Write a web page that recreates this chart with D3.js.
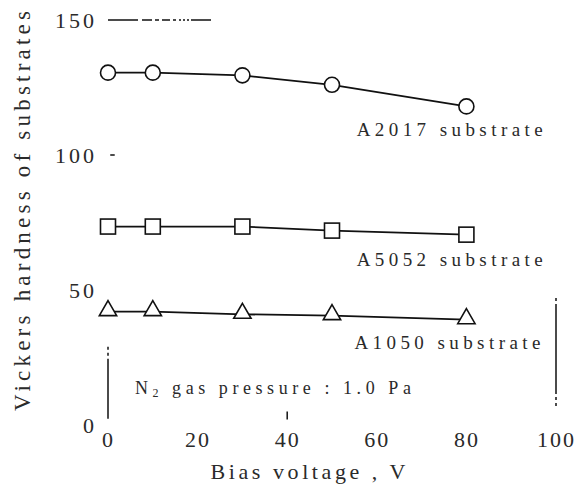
<!DOCTYPE html>
<html lang="en">
<head>
<meta charset="UTF-8">
<title>Vickers hardness vs bias voltage</title>
<script src="https://d3js.org/d3.v7.min.js"></script>
<style>
    body { margin: 0; background: white; }
    svg { display: block; }
    text { font-family: "Liberation Serif", "DejaVu Serif", serif; fill: #2a2a2a; }
</style>
</head>
<body>
<svg width="583" height="495"></svg>
<script>
    // data
    const biasVoltage = [0, 10, 30, 50, 80];
    const a2017 = [130.5, 130.5, 129.5, 126, 118];
    const a5052 = [73.5, 73.5, 73.5, 72, 70.5];
    const a1050 = [42, 42, 41, 40.5, 39];
    const xTicks = [0, 20, 40, 60, 80, 100];
    const yTicks = [0, 50, 100, 150];
    const seriesNames = ["A2017 substrate", "A5052 substrate", "A1050 substrate"];

    const svg = d3.select("svg");

    const x = d3.scaleLinear().domain([0, 100]).range([108, 556]);
    const y = d3.scaleLinear().domain([0, 150]).range([425, 20]);

    // axes: only labels survive in the scan
    const xAxis = svg.append("g")
        .attr("transform", "translate(0,432)")
        .call(d3.axisBottom(x).tickValues(xTicks).tickSize(0).tickPadding(0));
    xAxis.select(".domain").remove();
    xAxis.selectAll("text")
        .attr("font-size", 22)
        .attr("letter-spacing", 2)
        .attr("dy", "0.7em")
        .attr("fill", "#2a2a2a");

    const yAxis = svg.append("g")
        .attr("transform", "translate(97,0)")
        .call(d3.axisLeft(y).tickValues(yTicks).tickSize(0).tickPadding(0));
    yAxis.select(".domain").remove();
    yAxis.selectAll("text")
        .attr("font-size", 22)
        .attr("letter-spacing", 3)
        .attr("fill", "#2a2a2a");

    // leftover fragments of the frame
    const frame = svg.append("g").attr("stroke", "#111").attr("fill", "none");
    frame.append("line")
        .attr("x1", x(0)).attr("x2", x(23))
        .attr("y1", y(150)).attr("y2", y(150))
        .attr("stroke-width", 1.5)
        .attr("stroke-dasharray", "30,4,10,3,4,3,8,3,3,3,2,2,2,2,2,2");
    frame.append("line")
        .attr("x1", x(0)).attr("x2", x(0))
        .attr("y1", y(29)).attr("y2", y(2))
        .attr("stroke-width", 1.5)
        .attr("stroke-dasharray", "3,3,3,3,60");
    frame.append("line")
        .attr("x1", x(100)).attr("x2", x(100))
        .attr("y1", y(47)).attr("y2", y(7))
        .attr("stroke-width", 1.5)
        .attr("stroke-dasharray", "3,3,90,3,3");
    frame.append("line")
        .attr("x1", x(0.5)).attr("x2", x(1.5))
        .attr("y1", y(100)).attr("y2", y(100))
        .attr("stroke-width", 1.5);
    frame.append("line")
        .attr("x1", x(40)).attr("x2", x(40))
        .attr("y1", y(5)).attr("y2", y(2))
        .attr("stroke-width", 1.5);

    const line = d3.line()
        .x((d, i) => x(biasVoltage[i]))
        .y(d => y(d));

    const plot = svg.append("g");
    [a2017, a5052, a1050].forEach(vals => {
        plot.append("path")
            .attr("d", line(vals))
            .attr("fill", "none")
            .attr("stroke", "#111")
            .attr("stroke-width", 1.8);
    });

    // markers
    plot.selectAll(".circ").data(a2017).enter().append("circle")
        .attr("cx", (d, i) => x(biasVoltage[i]))
        .attr("cy", d => y(d))
        .attr("r", 7.5)
        .attr("fill", "white").attr("stroke", "#111").attr("stroke-width", 1.6);

    plot.selectAll(".sq").data(a5052).enter().append("rect")
        .attr("x", (d, i) => x(biasVoltage[i]) - 7.5)
        .attr("y", d => y(d) - 7.5)
        .attr("width", 15).attr("height", 15)
        .attr("fill", "white").attr("stroke", "#111").attr("stroke-width", 1.6);

    const tri = d3.symbol().type(d3.symbolTriangle).size(130);
    plot.selectAll(".tri").data(a1050).enter().append("path")
        .attr("d", tri)
        .attr("transform", (d, i) => `translate(${x(biasVoltage[i])},${y(d) - 1})`)
        .attr("fill", "white").attr("stroke", "#111").attr("stroke-width", 1.6);

    // curve labels
    const labelPos = [[55.5, 107], [55.5, 59], [55, 28]];
    seriesNames.forEach((name, i) => {
        svg.append("text")
            .attr("x", x(labelPos[i][0]))
            .attr("y", y(labelPos[i][1]))
            .attr("font-size", 19)
            .attr("textLength", 186)
            .attr("lengthAdjust", "spacing")
            .text(name);
    });

    const note = svg.append("text")
        .attr("x", x(6))
        .attr("y", y(11.5))
        .attr("font-size", 18)
        .attr("textLength", 276)
        .attr("lengthAdjust", "spacing");
    note.append("tspan").text("N");
    note.append("tspan").attr("font-size", 12).attr("dy", 3).text("2");
    note.append("tspan").attr("dy", -3).text(" gas pressure : 1.0 Pa");

    // axis titles
    svg.append("text")
        .attr("x", 308)
        .attr("y", 479)
        .attr("text-anchor", "middle")
        .attr("font-size", 22)
        .attr("textLength", 195)
        .attr("lengthAdjust", "spacing")
        .text("Bias voltage , V");

    svg.append("text")
        .attr("transform", "translate(30,211) rotate(-90)")
        .attr("text-anchor", "middle")
        .attr("font-size", 23)
        .attr("textLength", 400)
        .attr("lengthAdjust", "spacing")
        .text("Vickers hardness of substrates");
</script>
</body>
</html>
